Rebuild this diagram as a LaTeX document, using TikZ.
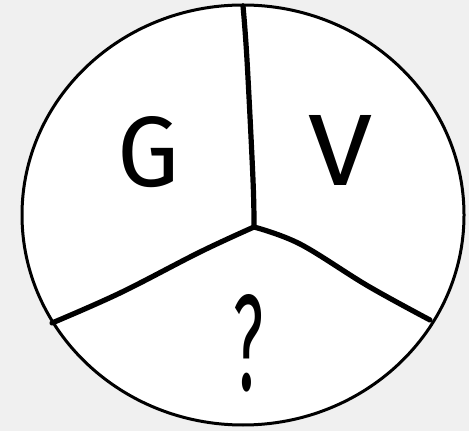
\documentclass[tikz,border=0pt]{standalone}
\usepackage{fontspec}
\newfontfamily\handfont{Fira Sans}
\definecolor{backgray}{HTML}{F0F0F0}

\begin{document}
\begin{tikzpicture}[x=0.5pt, y=-0.5pt,
    rim/.style={line width=1.5pt},
    handline/.style={line width=2.6pt, line cap=round, line join=round},
    letter/.style={inner sep=0pt, font=\handfont}]
  \useasboundingbox (0,0) rectangle (469,431);
  \fill[backgray] (0,0) rectangle (469,431);

  % the disc
  \coordinate (O) at (243,215);
  \filldraw[rim, fill=white] (O) ellipse [x radius=221, y radius=210];

  % where the three cuts meet
  \coordinate (M) at (254,227);
  \coordinate (T) at (243,6);
  \coordinate (L) at (52,323);
  \coordinate (R) at (430,320);

  \draw[handline] plot[smooth, tension=0.6] coordinates {(T) (247,60) (253,180) (M)};
  \draw[handline] plot[smooth, tension=0.6] coordinates {(M) (200,252) (120,293) (L)};
  \draw[handline] plot[smooth, tension=0.6] coordinates {(M) (300,244) (368,286) (R)};

  % the labels
  \node[letter] (g) at (149,152) {\resizebox{31pt}{35pt}{G}};
  \node[letter] (v) at (340,150) {\resizebox{32pt}{35pt}{V}};
  \node[letter] (q) at (248,343) {\resizebox{15pt}{48pt}{?}};
\end{tikzpicture}
\end{document}
